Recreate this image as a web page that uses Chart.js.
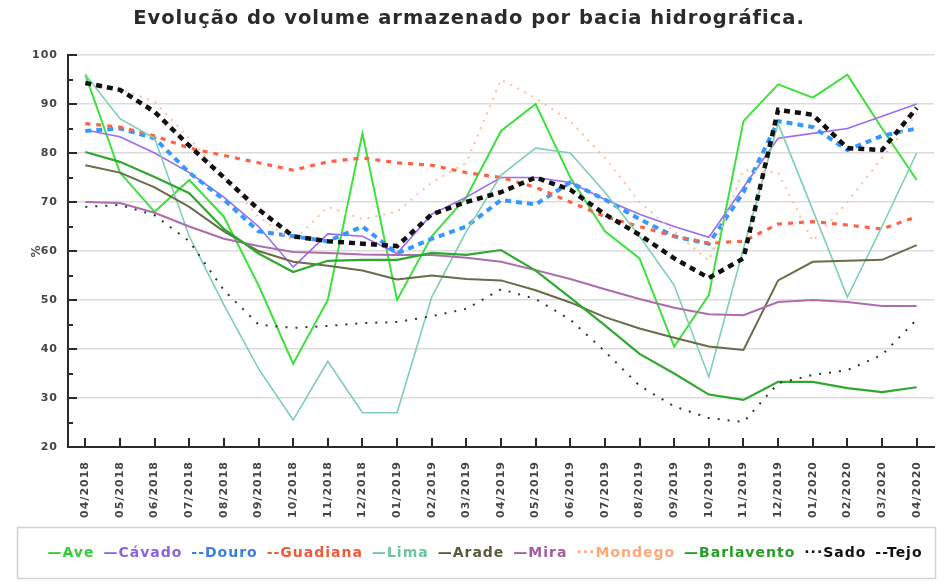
<!DOCTYPE html>
<html>
<head>
<meta charset="utf-8">
<title>Evolução do volume armazenado por bacia hidrográfica</title>
<script src="https://cdn.jsdelivr.net/npm/chart.js@4"></script>
<style>
  html, body { margin: 0; padding: 0; background: #fff; overflow: hidden; }
  canvas { display: block; }
</style>
</head>
<body>
<canvas id="chartBacias" width="944" height="581"></canvas>
<script>
// Meses (abril 2018 - abril 2020)
var meses = ['04/2018', '05/2018', '06/2018', '07/2018', '08/2018', '09/2018', '10/2018', '11/2018', '12/2018',
  '01/2019', '02/2019', '03/2019', '04/2019', '05/2019', '06/2019', '07/2019', '08/2019', '09/2019', '10/2019',
  '11/2019', '12/2019', '01/2020', '02/2020', '03/2020', '04/2020'];

// Volume armazenado (%) por bacia
var ave = [96, 76, 68, 74.5, 67, 53, 37, 50, 84, 50, 63, 71, 84.5, 90, 75, 64, 58.5, 40.5, 51, 86.5, 94, 91.3, 96, 85, 74.5];
var cavado = [84.7, 83.3, 80, 76, 71, 65, 56.7, 63.5, 63, 59.5, 67.5, 71, 75, 75, 74, 70.5, 67.5, 65, 62.8, 73, 83, 84, 85, 87.5, 90];
var douro = [84.5, 85, 83, 76, 70.5, 64, 63, 62, 65, 59.5, 62.5, 65, 70.4, 69.5, 74, 70.5, 66.5, 63, 61.5, 72, 86.5, 85.3, 80.6, 83.5, 85];
var guadiana = [86, 85.3, 83.5, 81, 79.5, 78, 76.5, 78.2, 79, 78, 77.5, 76, 75, 73, 70, 67, 65, 63, 61.6, 62, 65.5, 66, 65.3, 64.5, 67];
var lima = [96, 87, 83, 63, 49, 36, 25.5, 37.5, 27, 27, 50.6, 64, 75.5, 81, 80, 72, 63, 53, 34.3, 60.5, 86, 68.4, 50.6, 65, 80];
var arade = [77.5, 76, 73, 69, 64, 60, 57.8, 57, 56, 54.2, 55, 54.3, 54, 52, 49.5, 46.5, 44.2, 42.3, 40.5, 39.8, 54, 57.8, 58, 58.2, 61.2];
var mira = [70, 69.8, 67.8, 65, 62.5, 61, 59.8, 59.6, 59.3, 59.2, 59.2, 58.6, 57.8, 56.1, 54.3, 52.2, 50.2, 48.4, 47.1, 46.9, 49.6, 50, 49.6, 48.8, 48.8];
var mondego = [94, 93, 90.5, 83, 75, 67, 62, 69, 66.5, 68, 74, 78, 95, 91.2, 86.5, 79, 70, 64, 58, 76.5, 76, 62, 70, 79, 88];
var barlavento = [80.2, 78.2, 75.1, 71.8, 64.5, 59.5, 55.7, 58, 58.2, 58.2, 59.6, 59.2, 60.2, 56, 50.5, 44.8, 39, 35, 30.7, 29.6, 33.3, 33.3, 32, 31.2, 32.2];
var sado = [69, 69.4, 67.3, 62, 52, 45, 44.3, 44.7, 45.3, 45.5, 46.7, 48.2, 52.2, 50.2, 46, 39.5, 32.5, 28.3, 25.9, 25.1, 33, 34.7, 35.7, 38.8, 46];
var tejo = [94.3, 92.9, 88.4, 81.5, 75, 68.5, 63, 62, 61.5, 61, 67.5, 70, 72, 75, 72.5, 67.5, 63.3, 58.5, 54.5, 58.5, 88.8, 87.8, 81, 80.6, 89.2];

// Eixo Y
var yMin = 20;
var yMax = 100;

var FONTE = "'DejaVu Sans', Verdana, sans-serif";
var PAD_BAIXO = 62;   // room kept under the x labels for the legend

// Helper to build one line dataset
function serie(label, data, color, textColor, width, dash, mark) {
  return {
    label: label,
    data: data,
    borderColor: color,
    backgroundColor: color,
    borderWidth: width,
    borderDash: dash,
    fill: false,
    tension: 0,
    pointRadius: 0,
    pointHoverRadius: 0,
    legendText: textColor,
    legendMark: mark
  };
}

var datasets = [
  serie('Ave', ave, '#3ee03e', '#33cc33', 2, [], '\u2014'),
  serie('Cávado', cavado, '#9b6cf0', '#8a63e0', 1.6, [], '\u2014'),
  serie('Douro', douro, '#3399ff', '#3a7fe0', 4, [6, 5], '--'),
  serie('Guadiana', guadiana, '#ff6347', '#ee5a3a', 3.2, [5, 6], '--'),
  serie('Lima', lima, '#7fcfb0', '#6cc49c', 1.6, [], '\u2014'),
  serie('Arade', arade, '#6b6b4a', '#5a5a38', 2, [], '\u2014'),
  serie('Mira', mira, '#ad6cad', '#a55aa5', 2, [], '\u2014'),
  serie('Mondego', mondego, '#ffbf9a', '#ffa878', 2, [2, 6], '\u00b7\u00b7\u00b7'),
  serie('Barlavento', barlavento, '#2fa82f', '#22a022', 2.2, [], '\u2014'),
  serie('Sado', sado, '#333333', '#111111', 2, [2, 8], '\u00b7\u00b7\u00b7'),
  serie('Tejo', tejo, '#111111', '#111111', 4.5, [6, 5], '--')
];
// later datasets drawn on top
datasets.forEach(function (ds, i) { ds.order = datasets.length - i; });

// Slightly spaced lettering for all chart text
var espacamento = {
  id: 'espacamento',
  beforeLayout: function (chart) { chart.ctx.letterSpacing = '1px'; },
  beforeDraw: function (chart) { chart.ctx.letterSpacing = '1px'; }
};

// Inward tick marks on both axes
var marcasEixo = {
  id: 'marcasEixo',
  beforeDatasetsDraw: function (chart) {
    var ctx = chart.ctx;
    var area = chart.chartArea;
    var x = chart.scales.x;
    var y = chart.scales.y;
    ctx.save();
    ctx.strokeStyle = '#2a2a2a';
    ctx.lineWidth = 2;
    ctx.beginPath();
    y.ticks.forEach(function (t) {
      var py = Math.round(y.getPixelForValue(t.value));
      var len = t.value % 10 === 0 ? 9 : 5;
      ctx.moveTo(area.left, py);
      ctx.lineTo(area.left + len, py);
    });
    x.ticks.forEach(function (t, i) {
      var px = Math.round(x.getPixelForTick(i));
      ctx.moveTo(px, area.bottom);
      ctx.lineTo(px, area.bottom - 9);
    });
    ctx.stroke();
    ctx.restore();
  }
};

// One-row legend in a framed box at the bottom: mark + name, coloured per basin
var legendaBacias = {
  id: 'legendaBacias',
  afterDraw: function (chart) {
    var ctx = chart.ctx;
    var gap = 9;
    var cy = chart.height - 28;
    ctx.save();
    ctx.letterSpacing = '1px';
    ctx.font = 'bold 14px ' + FONTE;
    ctx.textAlign = 'left';
    ctx.textBaseline = 'middle';
    var itens = chart.data.datasets.map(function (ds) {
      var txt = ds.legendMark + ds.label;
      return { txt: txt, cor: ds.legendText, w: ctx.measureText(txt).width };
    });
    var total = itens.reduce(function (s, it) { return s + it.w; }, 0) + gap * (itens.length - 1);
    var x = chart.width / 2 + 13 - total / 2;
    itens.forEach(function (it) {
      ctx.fillStyle = it.cor;
      ctx.fillText(it.txt, x, cy);
      x += it.w + gap;
    });
    ctx.strokeStyle = '#d2d2d2';
    ctx.lineWidth = 1.5;
    ctx.strokeRect(17.5, cy - 25.5, chart.width - 26, 51);
    ctx.restore();
  }
};

document.addEventListener('DOMContentLoaded', function () {
  var ctx = document.getElementById('chartBacias');

  new Chart(ctx, {
    type: 'line',
    data: { labels: meses, datasets: datasets },
    plugins: [espacamento, marcasEixo, legendaBacias],
    options: {
      responsive: false,
      animation: false,
      layout: { padding: { left: 0, right: 6, top: 0, bottom: PAD_BAIXO } },
      plugins: {
        title: {
          display: true,
          text: 'Evolução do volume armazenado por bacia hidrográfica.',
          color: '#2b2b2b',
          font: { family: FONTE, size: 19.5, weight: 'bold' },
          padding: { top: 7, bottom: 24.6 }
        },
        legend: { display: false },
        tooltip: { enabled: false }
      },
      scales: {
        x: {
          offset: true,
          grid: { display: false, drawTicks: false },
          border: { display: true, color: '#2a2a2a', width: 2 },
          ticks: {
            color: '#444',
            font: { family: FONTE, size: 11, weight: 'bold' },
            minRotation: 90,
            maxRotation: 90,
            padding: 14,
            autoSkip: false
          },
          afterFit: function (scale) {
            // keep the plot bottom fixed above labels and legend
            scale.height = scale.chart.height - 447 - PAD_BAIXO;
          }
        },
        y: {
          min: yMin,
          max: yMax,
          grid: {
            drawTicks: false,
            lineWidth: 1.5,
            color: function (c) {
              return c.tick && c.tick.value % 10 === 0 ? '#dcdcdc' : 'rgba(0,0,0,0)';
            }
          },
          border: { display: true, color: '#2a2a2a', width: 2 },
          ticks: {
            stepSize: 5,
            color: '#444',
            padding: 10,
            font: { family: FONTE, size: 11, weight: 'bold' },
            callback: function (v) { return v % 10 === 0 ? v : ''; }
          },
          title: {
            display: true,
            text: '%',
            color: '#555',
            font: { family: FONTE, size: 12, weight: 'bold' },
            padding: { top: 30, bottom: 0 }
          },
          afterFit: function (scale) { scale.width = 68; }
        }
      }
    }
  });
});
</script>
</body>
</html>
